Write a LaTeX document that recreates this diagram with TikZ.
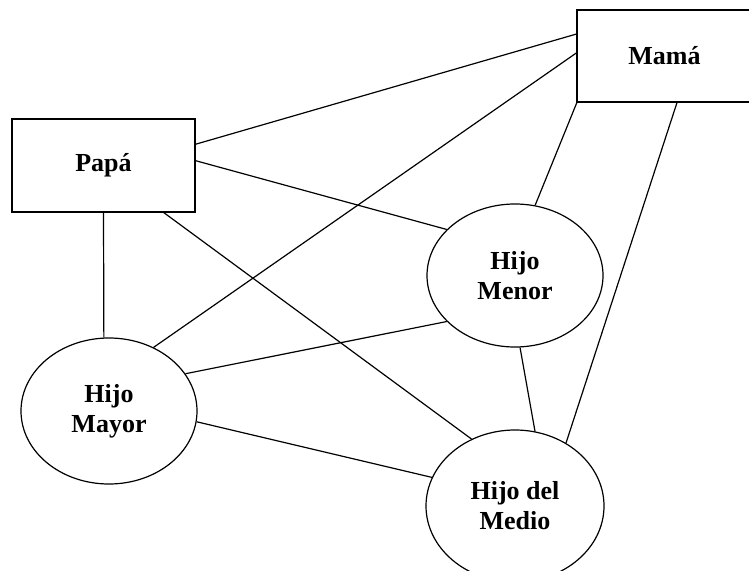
\documentclass[tikz,border=0pt]{standalone}
\usepackage{fontspec}
\setmainfont{Liberation Serif}
\usetikzlibrary{shapes.geometric}
\begin{document}
\begin{tikzpicture}[x=1pt,y=-1pt,
  famrect/.style={draw, line width=1.2pt, rectangle, inner sep=0pt, align=center,
    font=\fontsize{26}{30}\selectfont\bfseries},
  famoval/.style={draw, line width=1.2pt, ellipse, inner sep=0pt, align=center,
    font=\fontsize{26}{30}\selectfont\bfseries},
  link/.style={line width=1.2pt}]
\useasboundingbox (0,0) rectangle (749,570);
\clip (0,0) rectangle (749,570);
\node[famrect, minimum width=183pt, minimum height=93pt] (papa) at (103.5,165.5) {Papá};
\node[famrect, minimum width=175pt, minimum height=92pt] (mama) at (664.5,56) {Mamá};
\node[famoval, minimum width=176pt, minimum height=143pt] (menor) at (515,275.5) {Hijo\\Menor};
\node[famoval, minimum width=176pt, minimum height=146pt] (mayor) at (109,411) {Hijo\\Mayor};
\node[famoval, minimum width=178pt, minimum height=152pt] (medio) at (515,506) {Hijo del\\Medio};
\draw[link] (papa.13.8) -- (mama.166.5);
\draw[link] (papa.3.4) -- (menor.146.2);
\draw[link] (papa.-90) -- (mayor.94);
\draw[link] (papa.-38) -- (medio.123.9);
\draw[link] (mama.-152) -- (menor.74.6);
\draw[link] (mama.-75.1) -- (medio.51.5);
\draw[link] (menor.-86) -- (medio.75.3);
\draw[link] (mayor.55.1) -- (mama.178);
\draw[link] (mayor.26.3) -- (menor.-146.4);
\draw[link] (mayor.-7.8) -- (medio.161.1);
\end{tikzpicture}
\end{document}
